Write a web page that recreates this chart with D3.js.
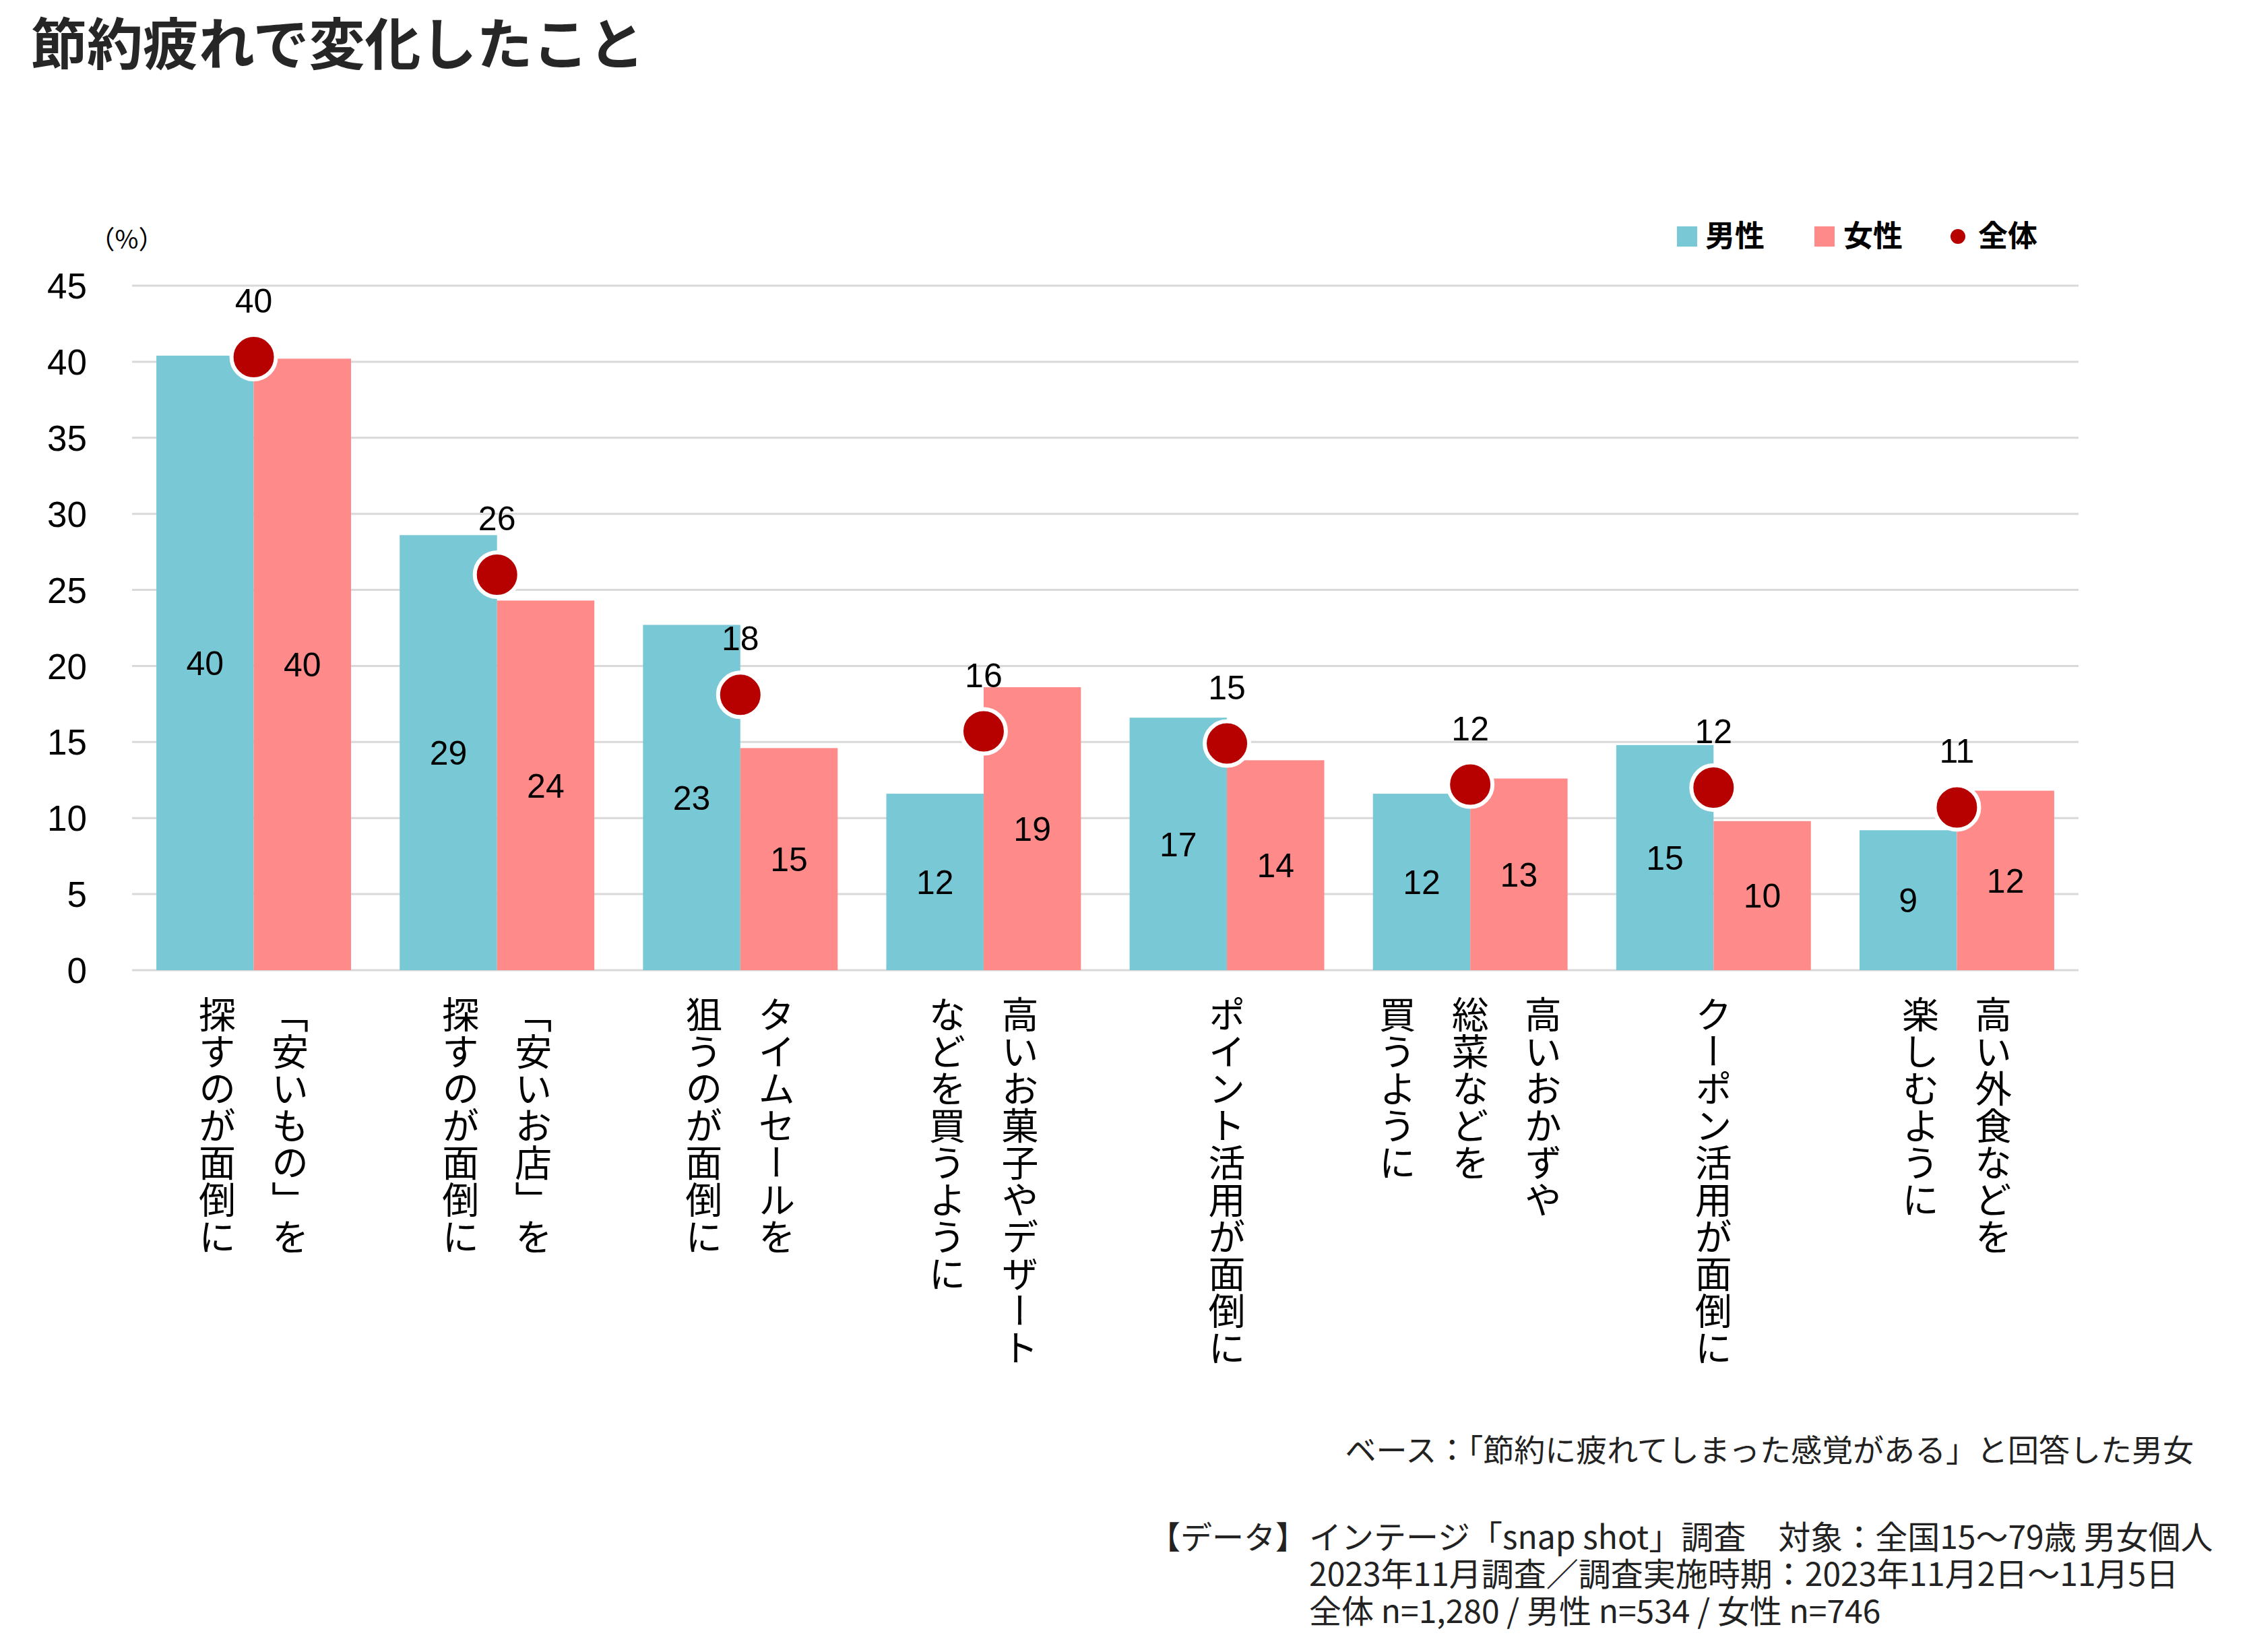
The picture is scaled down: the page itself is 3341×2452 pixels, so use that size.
<!DOCTYPE html>
<html>
<head>
<meta charset="utf-8">
<script src="https://cdn.jsdelivr.net/npm/d3@7"></script>
<style>
  body { margin: 0; background: #fff; }
  text { font-family: "Noto Sans CJK JP", sans-serif; }
  .num { font-family: "Liberation Sans", Arial, sans-serif; }
</style>
</head>
<body>
<script>
// data
const categories = ["安いもの", "安いお店", "タイムセール", "お菓子", "ポイント", "おかず", "クーポン", "外食"];
const labelLines = [
  ["「安いもの」を", "探すのが面倒に"],
  ["「安いお店」を", "探すのが面倒に"],
  ["タイムセールを", "狙うのが面倒に"],
  ["高いお菓子やデザート", "などを買うように"],
  ["ポイント活用が面倒に"],
  ["高いおかずや", "総菜などを", "買うように"],
  ["クーポン活用が面倒に"],
  ["高い外食などを", "楽しむように"]
];
const male   = [40.4, 28.6, 22.7, 11.6, 16.6, 11.6, 14.8, 9.2];
const female = [40.2, 24.3, 14.6, 18.6, 13.8, 12.6, 9.8, 11.8];
const total  = [40.3, 26.0, 18.1, 15.7, 14.9, 12.2, 12.0, 10.7];
const yTicks = [0, 5, 10, 15, 20, 25, 30, 35, 40, 45];
const seriesNames = ["男性", "女性", "全体"];
const footerBase = "ベース：「節約に疲れてしまった感覚がある」と回答した男女";
const footerData = [
  "インテージ「snap shot」調査　対象：全国15～79歳 男女個人",
  "2023年11月調査／調査実施時期：2023年11月2日～11月5日",
  "全体 n=1,280 / 男性 n=534 / 女性 n=746"
];

const W = 3341, H = 2452;
const colors = { male: "#78C8D6", female: "#FF8A8A", total: "#B70000" };

const svg = d3.select("body").append("svg")
  .attr("width", W)
  .attr("height", H);

// title
svg.append("text")
  .attr("x", 46)
  .attr("y", 96)
  .attr("font-size", 83)
  .attr("font-weight", "bold")
  .attr("fill", "#262626")
  .text("節約疲れで変化したこと");

const x0 = d3.scaleBand()
  .domain(categories)
  .range([196, 3085])
  .paddingInner(0.2)
  .paddingOuter(0.1);

const x1 = d3.scaleBand()
  .domain(["male", "female"])
  .range([0, x0.bandwidth()]);

const y = d3.scaleLinear()
  .domain([0, 45])
  .range([1440, 424]);

// gridlines
svg.append("g")
  .selectAll("line")
  .data(yTicks)
  .enter().append("line")
  .attr("x1", 196)
  .attr("x2", 3085)
  .attr("y1", d => y(d))
  .attr("y2", d => y(d))
  .attr("stroke", "#d9d9d9")
  .attr("stroke-width", 3);

// y axis labels
svg.append("g")
  .selectAll("text")
  .data(yTicks)
  .enter().append("text")
  .attr("class", "num")
  .attr("x", 129)
  .attr("y", d => y(d))
  .attr("dy", "0.36em")
  .attr("text-anchor", "end")
  .attr("font-size", 53)
  .attr("fill", "#000")
  .text(d => d);

svg.append("text")
  .attr("x", 188)
  .attr("y", 356)
  .attr("dy", "0.35em")
  .attr("text-anchor", "middle")
  .attr("font-size", 38)
  .text("（%）");

// bars
const groups = svg.append("g")
  .selectAll("g")
  .data(categories)
  .enter().append("g")
  .attr("transform", d => `translate(${x0(d)},0)`);

groups.append("rect")
  .attr("x", x1("male"))
  .attr("width", x1.bandwidth())
  .attr("y", (d, i) => y(male[i]))
  .attr("height", (d, i) => y(0) - y(male[i]))
  .attr("fill", colors.male);

groups.append("rect")
  .attr("x", x1("female"))
  .attr("width", x1.bandwidth())
  .attr("y", (d, i) => y(female[i]))
  .attr("height", (d, i) => y(0) - y(female[i]))
  .attr("fill", colors.female);

// bar values in the middle of each bar
groups.append("text")
  .attr("class", "num")
  .attr("x", x1("male") + x1.bandwidth() / 2)
  .attr("y", (d, i) => (y(male[i]) + y(0)) / 2)
  .attr("dy", "0.36em")
  .attr("text-anchor", "middle")
  .attr("font-size", 50)
  .text((d, i) => Math.round(male[i]));

groups.append("text")
  .attr("class", "num")
  .attr("x", x1("female") + x1.bandwidth() / 2)
  .attr("y", (d, i) => (y(female[i]) + y(0)) / 2)
  .attr("dy", "0.36em")
  .attr("text-anchor", "middle")
  .attr("font-size", 50)
  .text((d, i) => Math.round(female[i]));

// total dots
groups.append("circle")
  .attr("cx", x0.bandwidth() / 2)
  .attr("cy", (d, i) => y(total[i]))
  .attr("r", 33)
  .attr("fill", colors.total)
  .attr("stroke", "#fff")
  .attr("stroke-width", 6);

groups.append("text")
  .attr("class", "num")
  .attr("x", x0.bandwidth() / 2)
  .attr("y", (d, i) => y(total[i]) - 84)
  .attr("dy", "0.36em")
  .attr("text-anchor", "middle")
  .attr("font-size", 50)
  .text((d, i) => Math.round(total[i]));

// category labels, vertical
const colGap = 108;
groups.each(function(d, i) {
  const lines = labelLines[i];
  const c = x0.bandwidth() / 2;
  d3.select(this).selectAll("text.cat")
    .data(lines)
    .enter().append("text")
    .attr("class", "cat")
    .attr("x", (t, j) => c + (lines.length - 1) / 2 * colGap - j * colGap)
    .attr("y", 1478)
    .style("writing-mode", "vertical-rl")
    .attr("font-size", 55)
    .attr("fill", "#000")
    .text(t => t);
});

// legend
const legend = svg.append("g").attr("transform", "translate(0,351)");
const legendX = [2489, 2693, 2906];
legend.append("rect").attr("x", legendX[0]).attr("y", -15).attr("width", 30).attr("height", 30).attr("fill", colors.male);
legend.append("rect").attr("x", legendX[1]).attr("y", -15).attr("width", 30).attr("height", 30).attr("fill", colors.female);
legend.append("circle").attr("cx", legendX[2]).attr("cy", 0).attr("r", 11).attr("fill", colors.total);
legend.selectAll("text.leg")
  .data(seriesNames)
  .enter().append("text")
  .attr("class", "leg")
  .attr("x", (d, i) => [2531, 2736, 2936][i])
  .attr("y", 0)
  .attr("dy", "0.35em")
  .attr("font-size", 44)
  .attr("font-weight", "bold")
  .text(d => d);

// footer
svg.append("text")
  .attr("x", 3256)
  .attr("y", 2169)
  .attr("text-anchor", "end")
  .attr("font-size", 46)
  .attr("fill", "#222")
  .text(footerBase);

svg.append("text")
  .attr("x", 1705)
  .attr("y", 2299)
  .attr("font-size", 47)
  .attr("fill", "#222")
  .text("【データ】");

svg.append("g")
  .selectAll("text")
  .data(footerData)
  .enter().append("text")
  .attr("x", 1943)
  .attr("y", (d, i) => 2299 + i * 55)
  .attr("font-size", 48)
  .attr("fill", "#222")
  .text(d => d);
</script>
</body>
</html>
